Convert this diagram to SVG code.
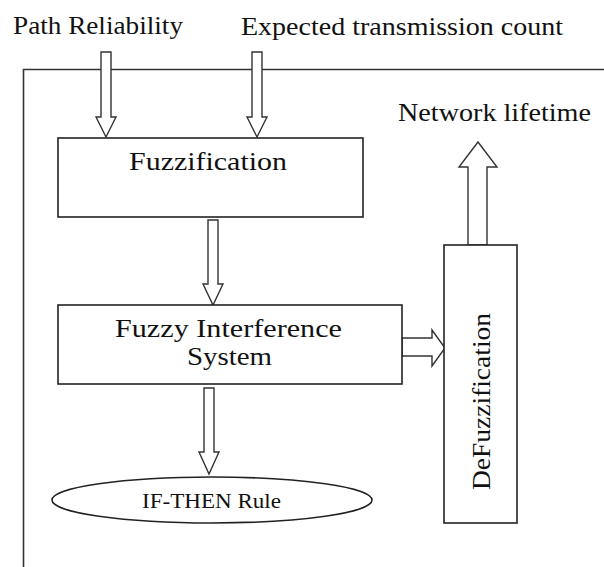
<svg xmlns="http://www.w3.org/2000/svg" width="604" height="567" viewBox="0 0 604 567">
<style>
.box{fill:#fff;stroke:#222;stroke-width:1.6}
.arr{fill:#fff;stroke:#333;stroke-width:1.4;stroke-linejoin:miter}
.frame{fill:none;stroke:#333;stroke-width:1.6}
text{font-family:"Liberation Serif","Times New Roman",serif;fill:#111;font-size:26px}
</style>
<rect width="604" height="567" fill="#fff"/>
<g id="frame"><path class="frame" d="M23.5,567 V69.5 H604"/></g>
<g id="labels">
<text x="13" y="34" textLength="170" lengthAdjust="spacingAndGlyphs">Path Reliability</text>
<text x="241" y="35" textLength="322" lengthAdjust="spacingAndGlyphs">Expected transmission count</text>
<text x="398" y="121" textLength="193" lengthAdjust="spacingAndGlyphs">Network lifetime</text>
</g>
<g id="connectors">
<path class="arr" d="M101,52 H111 V117 H116 L106,137 L96,117 H101 Z"/>
<path class="arr" d="M252,52 H262 V117 H267 L257,137 L247,117 H252 Z"/>
<path class="arr" d="M208,220 H218 V284 H223 L213,305 L203,284 H208 Z"/>
<path class="arr" d="M204,388 H214 V452 H219 L209,474 L199,452 H204 Z"/>
<path class="arr" d="M402,338 H432 V330 L445,348 L432,366 V356 H402 Z"/>
<path class="arr" d="M468,245 V167 H459 L478,142 L497,167 H487 V245 Z"/>
</g>
<g id="fuzzification">
<rect class="box" x="58" y="138" width="305" height="79"/>
<text x="208" y="170" text-anchor="middle" textLength="158" lengthAdjust="spacingAndGlyphs">Fuzzification</text>
</g>
<g id="fis">
<rect class="box" x="58" y="305" width="344" height="79"/>
<text x="228.5" y="337" text-anchor="middle" textLength="227" lengthAdjust="spacingAndGlyphs">Fuzzy Interference</text>
<text x="229.5" y="365" text-anchor="middle" textLength="85" lengthAdjust="spacingAndGlyphs">System</text>
</g>
<g id="defuzzification">
<rect class="box" x="444" y="245" width="73" height="278"/>
<text transform="translate(490,401.5) rotate(-90)" text-anchor="middle" textLength="177" lengthAdjust="spacingAndGlyphs">DeFuzzification</text>
</g>
<g id="ifthen">
<ellipse class="box" cx="212" cy="500" rx="160" ry="23"/>
<text x="211.5" y="508" text-anchor="middle" style="font-size:21px" textLength="139" lengthAdjust="spacingAndGlyphs">IF-THEN Rule</text>
</g>
</svg>
